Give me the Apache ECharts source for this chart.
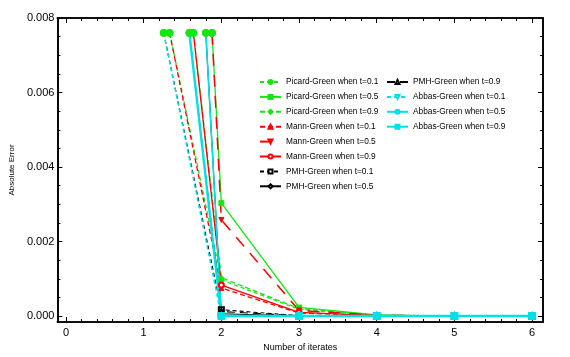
<!DOCTYPE html>
<html>
<head>
<meta charset="utf-8">
<script src="https://cdn.jsdelivr.net/npm/echarts@6/dist/echarts.min.js"></script>
<style>html,body{margin:0;padding:0;background:#fff;}#c{width:570px;height:357px;}</style>
</head>
<body>
<div id="c"></div>
<script>
// ---- data ----
const iterates = [2, 3, 4, 5, 6];
const clipLevel = 0.0076;           // level where every curve enters the plotted range
// iterate at which each curve crosses clipLevel (t = 0.1, 0.5, 0.9)
const picardEntry = [1.334, 1.88, 1.64];
const mannEntry   = [1.334, 1.88, 1.64];
const pmhEntry    = [1.258, 1.80, 1.588];
const abbasEntry  = [1.258, 1.80, 1.588];
// absolute error at iterates 2..6
const picardT01 = [0.00097, 0.00018, 0.00002, 0, 0];
const picardT05 = [0.00303, 0.00023, 0.00003, 0, 0];
const picardT09 = [0.00103, 0.00020, 0.00002, 0, 0];
const mannT01   = [0.00075, 0.00008, 0.00001, 0, 0];
const mannT05   = [0.00258, 0.00015, 0.00002, 0, 0];
const mannT09   = [0.00083, 0.00010, 0.00001, 0, 0];
const pmhT01    = [0.00017, 0.00001, 0, 0, 0];
const pmhT05    = [0.00006, 0.00000, 0, 0, 0];
const pmhT09    = [0.00012, 0.00001, 0, 0, 0];
const abbasT01  = [0, 0, 0, 0, 0];
const abbasT05  = [0, 0, 0, 0, 0];
const abbasT09  = [0, 0, 0, 0, 0];
const seriesNames = [
  'Picard-Green when t=0.1', 'Picard-Green when t=0.5', 'Picard-Green when t=0.9',
  'Mann-Green when t=0.1', 'Mann-Green when t=0.5', 'Mann-Green when t=0.9',
  'PMH-Green when t=0.1', 'PMH-Green when t=0.5', 'PMH-Green when t=0.9',
  'Abbas-Green when t=0.1', 'Abbas-Green when t=0.5', 'Abbas-Green when t=0.9'
];
const xTicks = [0, 1, 2, 3, 4, 5, 6];
const yTicks = [0, 0.002, 0.004, 0.006, 0.008];

// ---- styling ----
const GREEN = '#14e614', RED = '#ff0000', BLACK = '#000000', CYAN = '#00e1e6';
const styles = [
  {c: GREEN, dash: [4, 3], sym: 'circle', w: 1.3},
  {c: GREEN, dash: 'solid', sym: 'rect', w: 1.3},
  {c: GREEN, dash: [5, 3], sym: 'diamond', w: 1.3},
  {c: RED, dash: [5, 3], sym: 'triangle', w: 1.3},
  {c: RED, dash: [12, 9], sym: 'triangle', rot: 180, w: 1.5},
  {c: RED, dash: 'solid', sym: 'emptyCircle', w: 1.3},
  {c: BLACK, dash: [4, 3], sym: 'emptyRect', w: 1.1},
  {c: BLACK, dash: 'solid', sym: 'emptyDiamond', w: 1.1},
  {c: BLACK, dash: [8, 5], sym: 'emptyTriangle', w: 1.1},
  {c: CYAN, dash: [4, 3], sym: 'emptyTriangle', rot: 180, w: 1.5},
  {c: CYAN, dash: 'solid', sym: 'circle', w: 1.6, size: 7},
  {c: CYAN, dash: 'solid', sym: 'rect', w: 2.4, size: 7}
];
const values = [picardT01, picardT05, picardT09, mannT01, mannT05, mannT09,
                pmhT01, pmhT05, pmhT09, abbasT01, abbasT05, abbasT09];
const entries = [...picardEntry, ...mannEntry, ...pmhEntry, ...abbasEntry];

const series = values.map((vals, i) => {
  const s = styles[i];
  const data = [{value: [entries[i], clipLevel], symbol: 'circle', symbolSize: 7, symbolRotate: 0,
                 itemStyle: {color: GREEN, borderColor: GREEN}}]
    .concat(iterates.map((x, k) => [x, vals[k]]));
  return {
    name: seriesNames[i], type: 'line', data,
    xAxisIndex: 0, yAxisIndex: 0,
    symbol: s.sym, symbolSize: s.size || 5, symbolRotate: s.rot || 0,
    showSymbol: true, animation: false,
    lineStyle: {color: s.c, width: s.w, type: s.dash},
    itemStyle: {color: s.c, borderColor: s.c, borderWidth: 1},
    emphasis: {disabled: true}
  };
});

const xMin = -0.11, xMax = 6.14, yMin = -0.00016, yMax = 0.008;
const xMinor = [], yMinor = [];
for (let k = 0; k <= 30; k++) if (k % 5) xMinor.push(k / 5);
for (let k = 0; k <= 16; k++) if (k % 4) yMinor.push(k * 0.0005);

function xAx(pos, ticks, len, labels) {
  return {
    type: 'value', position: pos, min: xMin, max: xMax,
    axisLine: {show: true, onZero: false, lineStyle: {color: '#000', width: 1.6}},
    axisTick: {show: true, inside: true, length: len, customValues: ticks, lineStyle: {color: '#000', width: 1}},
    axisLabel: labels ? {show: true, customValues: xTicks, color: '#000', fontSize: 11,
      fontFamily: 'Liberation Sans', margin: 5, formatter: v => String(Math.round(v))} : {show: false},
    splitLine: {show: false}
  };
}
function yAx(pos, ticks, len, labels) {
  return {
    type: 'value', position: pos, min: yMin, max: yMax,
    axisLine: {show: true, onZero: false, lineStyle: {color: '#000', width: 1.6}},
    axisTick: {show: true, inside: true, length: len, customValues: ticks, lineStyle: {color: '#000', width: 1}},
    axisLabel: labels ? {show: true, customValues: yTicks, color: '#000', fontSize: 11,
      fontFamily: 'Liberation Sans', margin: 3, formatter: v => v.toFixed(3)} : {show: false},
    splitLine: {show: false}
  };
}

const xAxes = [xAx('bottom', xTicks, 5, true), xAx('bottom', xMinor, 3, false),
               xAx('top', xTicks, 5, false), xAx('top', xMinor, 3, false)];
xAxes[0].name = 'Number of iterates';
xAxes[0].nameLocation = 'middle';
xAxes[0].nameGap = 16;
xAxes[0].nameTextStyle = {color: '#000', fontSize: 9, fontFamily: 'Liberation Sans'};
const yAxes = [yAx('left', yTicks, 5, true), yAx('left', yMinor, 3, false),
               yAx('right', yTicks, 5, false), yAx('right', yMinor, 3, false)];
yAxes[0].name = 'Absolute Error';
yAxes[0].nameLocation = 'middle';
yAxes[0].nameGap = 33;
yAxes[0].nameTextStyle = {color: '#000', fontSize: 8, fontFamily: 'Liberation Sans'};

const legendText = {color: '#000', fontSize: 8.3, lineHeight: 10, fontFamily: 'Liberation Sans'};
const chart = echarts.init(document.getElementById('c'), null, {renderer: 'canvas'});
chart.setOption({
  backgroundColor: '#fff',
  animation: false,
  grid: {left: 51, right: 27, top: 18, bottom: 35, show: false},
  xAxis: xAxes,
  yAxis: yAxes,
  legend: [
    {data: seriesNames.slice(0, 8), orient: 'vertical', left: 259, top: 77, padding: 0,
     itemWidth: 21, itemHeight: 5, itemGap: 4.9, textStyle: legendText, selectedMode: false},
    {data: seriesNames.slice(8), orient: 'vertical', left: 386, top: 77, padding: 0,
     itemWidth: 21, itemHeight: 5, itemGap: 4.9, textStyle: legendText, selectedMode: false}
  ],
  series
});
</script>
</body>
</html>
